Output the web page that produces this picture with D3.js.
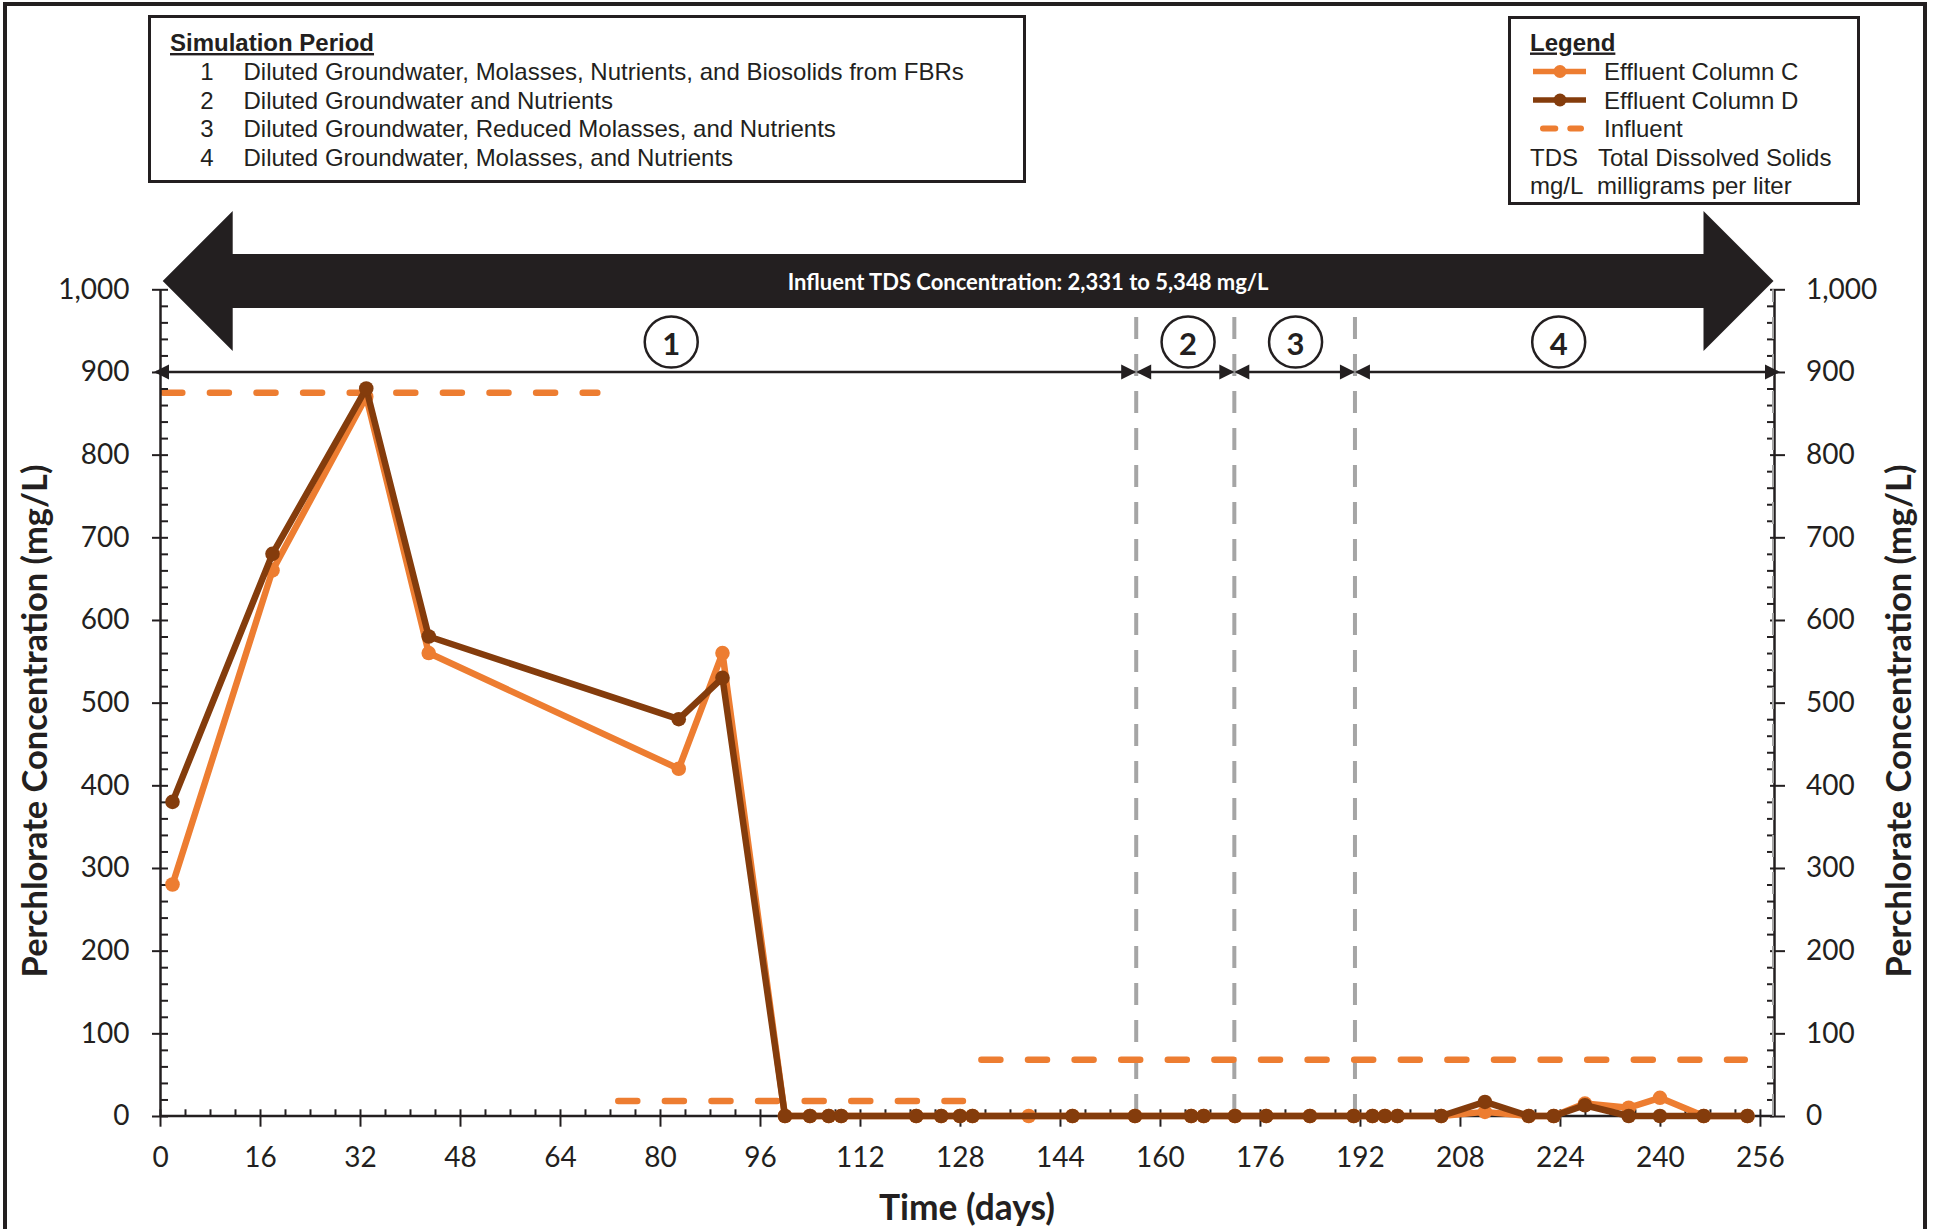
<!DOCTYPE html>
<html><head><meta charset="utf-8">
<script src="https://cdn.jsdelivr.net/npm/d3@7"></script>
<style>body{margin:0;background:#fff}svg{display:block}</style>
</head><body>
<svg id="chart" width="1935" height="1229"></svg>
<script>
// ---------------- DATA ----------------
const daysC   = [2, 18, 33, 43, 83, 90, 100, 104, 107, 109, 121, 125, 128, 130, 139, 146, 156, 165, 167, 172, 177, 184, 191, 194, 196, 198, 205, 212, 219, 223, 228, 235, 240, 247, 254];
const valuesC = [280, 660, 870, 560, 420, 560, 0, 0, 0, 0, 0, 0, 0, 0, 0, 0, 0, 0, 0, 0, 0, 0, 0, 0, 0, 0, 0, 5, 0, 0, 15, 10, 22, 0, 0];
const daysD   = [2, 18, 33, 43, 83, 90, 100, 104, 107, 109, 121, 125, 128, 130, 146, 156, 165, 167, 172, 177, 184, 191, 194, 196, 198, 205, 212, 219, 223, 228, 235, 240, 247, 254];
const valuesD = [380, 680, 880, 580, 480, 530, 0, 0, 0, 0, 0, 0, 0, 0, 0, 0, 0, 0, 0, 0, 0, 0, 0, 0, 0, 0, 17, 0, 0, 13, 0, 0, 0, 0];
const influentStart  = [0, 72.8, 130.9];
const influentEnd    = [70.5, 129, 254.1];
const influentValues = [875, 18, 68];
const periodBounds    = [0, 156.2, 171.9, 191.2, 258.25];
const periodLabels    = ["1", "2", "3", "4"];
const periodLabelDays = [81.8, 164.5, 181.7, 223.8];
const xTicks = [0, 16, 32, 48, 64, 80, 96, 112, 128, 144, 160, 176, 192, 208, 224, 240, 256];
const yTicks = [0, 100, 200, 300, 400, 500, 600, 700, 800, 900, 1000];
const simNumbers = ["1", "2", "3", "4"];
const simDescriptions = [
  "Diluted Groundwater, Molasses, Nutrients, and Biosolids from FBRs",
  "Diluted Groundwater and Nutrients",
  "Diluted Groundwater, Reduced Molasses, and Nutrients",
  "Diluted Groundwater, Molasses, and Nutrients"
];
const legendSeries = ["Effluent Column C", "Effluent Column D", "Influent"];
const legendAbbrev = ["TDS", "mg/L"];
const legendMeaning = ["Total Dissolved Solids", "milligrams per liter"];
const tdsText = "Influent TDS Concentration: 2,331 to 5,348 mg/L";
const tdsTextDay = 138.9;
const yTitle = "Perchlorate Concentration (mg/L)";
const xTitle = "Time (days)";

// ---------------- STYLE ----------------
const INK = "#231f20", ORANGE = "#ED7D31", BROWN = "#843C0C", GRAY = "#A5A5A5";
const CAL = "Lato, 'Open Sans', sans-serif";
const ARIAL = "'Liberation Sans', Arial, sans-serif";
const BOXFS = 24;

const svg = d3.select("#chart");
const x = d3.scaleLinear().domain([0, 258.25]).range([160, 1774]);
const y = d3.scaleLinear().domain([0, 1000]).range([1116, 289.3]);

function fitWidth(sel, target) {
  const w = sel.node().getComputedTextLength();
  const fs = parseFloat(sel.attr("font-size"));
  sel.attr("font-size", fs * target / w);
}

// outer frame
svg.append("rect").attr("x", 5).attr("y", 4).attr("width", 1920).attr("height", 1300)
  .attr("fill", "none").attr("stroke", INK).attr("stroke-width", 4);

// ---------- period vertical lines ----------
const gPer = svg.append("g");
periodBounds.slice(1, 4).forEach(b => {
  gPer.append("line").attr("x1", x(b)).attr("x2", x(b)).attr("y1", y(0)).attr("y2", y(1000))
    .attr("stroke", GRAY).attr("stroke-width", 4).attr("stroke-dasharray", "22,15");
});

// ---------- influent ----------
const gInf = svg.append("g");
influentValues.forEach((v, i) => {
  gInf.append("line").attr("x1", x(influentStart[i]) + 3.3).attr("x2", x(influentEnd[i]) - 3.3)
    .attr("y1", y(v)).attr("y2", y(v))
    .attr("stroke", ORANGE).attr("stroke-width", 6.5).attr("stroke-linecap", "round")
    .attr("stroke-dasharray", "19,27.6");
});

// ---------- axes ----------
const axisStyle = g => {
  g.selectAll("path.domain").attr("stroke", INK).attr("stroke-width", 2.5);
  g.selectAll(".tick line").attr("stroke", INK).attr("stroke-width", 2);
  g.selectAll(".tick text").attr("fill", INK).attr("font-family", CAL).attr("font-size", 28);
};
const minorY = d3.range(0, 1001, 20).filter(v => v % 100 !== 0);
const minorX = d3.range(0, 257, 4).filter(v => v % 16 !== 0);

// x axis
const gx = svg.append("g").attr("transform", `translate(0,${y(0)})`)
  .call(d3.axisBottom(x).tickValues(xTicks).tickSizeInner(10.7).tickSizeOuter(0).tickPadding(20.6));
gx.selectAll(".tick line").attr("y1", -6.7);
gx.call(axisStyle);
gx.select("path.domain").remove();
svg.append("line").attr("x1", x(0)).attr("x2", x(258.25)).attr("y1", y(0)).attr("y2", y(0))
  .attr("stroke", INK).attr("stroke-width", 2.5);
svg.append("g").attr("transform", `translate(0,${y(0)})`)
  .call(d3.axisBottom(x).tickValues(minorX).tickSizeInner(-6.7).tickSizeOuter(0).tickFormat(""))
  .call(g => { g.select("path.domain").remove(); g.selectAll(".tick line").attr("stroke", INK).attr("stroke-width", 2); });

// left axis
const gyl = svg.append("g").attr("transform", `translate(${x(0)},0)`)
  .call(d3.axisLeft(y).tickValues(yTicks).tickFormat(d3.format(",")).tickSizeInner(8).tickSizeOuter(0).tickPadding(22.5));
gyl.selectAll(".tick line").attr("x1", 8);
gyl.call(axisStyle);
svg.append("g").attr("transform", `translate(${x(0)},0)`)
  .call(d3.axisLeft(y).tickValues(minorY).tickSizeInner(-8).tickSizeOuter(0).tickFormat(""))
  .call(g => { g.select("path.domain").remove(); g.selectAll(".tick line").attr("stroke", INK).attr("stroke-width", 2); });

// right axis
const gyr = svg.append("g").attr("transform", `translate(${x(258.25)},0)`)
  .call(d3.axisRight(y).tickValues(yTicks).tickFormat(d3.format(",")).tickSizeInner(11).tickSizeOuter(0).tickPadding(21));
gyr.selectAll(".tick line").attr("x1", -4);
gyr.call(axisStyle);
svg.append("g").attr("transform", `translate(${x(258.25)},0)`)
  .call(d3.axisRight(y).tickValues(minorY).tickSizeInner(-7).tickSizeOuter(0).tickFormat(""))
  .call(g => { g.select("path.domain").remove(); g.selectAll(".tick line").attr("stroke", INK).attr("stroke-width", 2); });
svg.append("line").attr("x1", x(258.25) - 1).attr("x2", x(258.25) - 1).attr("y1", y(0)).attr("y2", y(1000))
  .attr("stroke", GRAY).attr("stroke-width", 2).attr("stroke-dasharray", "22,15");

// ---------- data series ----------
const line = d3.line().x(d => x(d[0])).y(d => y(d[1]));
function drawSeries(days, vals, color) {
  const pts = days.map((d, i) => [d, vals[i]]);
  svg.append("path").datum(pts).attr("d", line).attr("fill", "none")
    .attr("stroke", color).attr("stroke-width", 6.5).attr("stroke-linejoin", "round");
  svg.append("g").selectAll("circle").data(pts).join("circle")
    .attr("cx", d => x(d[0])).attr("cy", d => y(d[1])).attr("r", 7.3).attr("fill", color);
}
drawSeries(daysC, valuesC, ORANGE);
drawSeries(daysD, valuesD, BROWN);

// ---------- period span arrows ----------
const spanY = y(900);
const gSpan = svg.append("g");
function head(tx, dir) { // dir -1 points left, +1 points right
  gSpan.append("path")
    .attr("d", `M${tx},${spanY} L${tx - dir * 15},${spanY - 7.5} L${tx - dir * 15},${spanY + 7.5} Z`)
    .attr("fill", INK);
}
periodLabels.forEach((lab, i) => {
  let a = x(periodBounds[i]), b = x(periodBounds[i + 1]);
  if (i === 0) a -= 6;
  if (i === 3) b += 6;
  gSpan.append("line").attr("x1", a + 2).attr("x2", b - 2).attr("y1", spanY).attr("y2", spanY)
    .attr("stroke", INK).attr("stroke-width", 2.5);
  head(a, -1); head(b, 1);
  const cx = x(periodLabelDays[i]);
  gSpan.append("ellipse").attr("cx", cx).attr("cy", 342).attr("rx", 26.5).attr("ry", 25.5)
    .attr("fill", "#fff").attr("stroke", INK).attr("stroke-width", 2.5);
  gSpan.append("text").attr("x", cx).attr("y", 355).attr("text-anchor", "middle")
    .attr("font-family", CAL).attr("font-weight", 700).attr("font-size", 31).attr("fill", INK).text(lab);
});

// ---------- big black TDS arrow ----------
const xL = x(0) + 2.7, xR = x(258.25) - 0.5, cy = 281;
svg.append("path").attr("fill", INK).attr("d",
  `M${xL},${cy} L${xL + 70},${cy - 70} L${xL + 70},${cy - 27} L${xR - 70},${cy - 27} L${xR - 70},${cy - 70} L${xR},${cy} ` +
  `L${xR - 70},${cy + 70} L${xR - 70},${cy + 27} L${xL + 70},${cy + 27} L${xL + 70},${cy + 70} Z`);
const tds = svg.append("text").attr("x", x(tdsTextDay)).attr("y", 290).attr("text-anchor", "middle")
  .attr("font-family", CAL).attr("font-weight", 700).attr("font-size", 22).attr("fill", "#fff").text(tdsText);
fitWidth(tds, 481);

// ---------- axis titles ----------
const tl = svg.append("text").attr("transform", "translate(47,721) rotate(-90)").attr("text-anchor", "middle")
  .attr("font-family", CAL).attr("font-weight", 700).attr("font-size", 31).attr("fill", INK).text(yTitle);
fitWidth(tl, 513);
const tr = svg.append("text").attr("transform", "translate(1911,721) rotate(-90)").attr("text-anchor", "middle")
  .attr("font-family", CAL).attr("font-weight", 700).attr("font-size", 31).attr("fill", INK).text(yTitle);
fitWidth(tr, 513);
const tb = svg.append("text").attr("x", 967).attr("y", 1220.4).attr("text-anchor", "middle")
  .attr("font-family", CAL).attr("font-weight", 700).attr("font-size", 31).attr("fill", INK).text(xTitle);
fitWidth(tb, 176);

// ---------- simulation period box ----------
const gs = svg.append("g");
gs.append("rect").attr("x", 149.5).attr("y", 16.5).attr("width", 875).attr("height", 165)
  .attr("fill", "#fff").attr("stroke", INK).attr("stroke-width", 3);
gs.append("text").attr("x", 170).attr("y", 51).attr("font-family", ARIAL).attr("font-weight", 700)
  .attr("font-size", BOXFS).attr("fill", INK).style("text-decoration", "underline").text("Simulation Period");
const rowY = [80, 108.5, 137, 165.5, 194];
simNumbers.forEach((n, i) => {
  gs.append("text").attr("x", 207).attr("y", rowY[i]).attr("text-anchor", "middle")
    .attr("font-family", ARIAL).attr("font-size", BOXFS).attr("fill", INK).text(n);
  gs.append("text").attr("x", 243.5).attr("y", rowY[i])
    .attr("font-family", ARIAL).attr("font-size", BOXFS).attr("fill", INK).text(simDescriptions[i]);
});

// ---------- legend box ----------
const gl = svg.append("g");
gl.append("rect").attr("x", 1509.5).attr("y", 17.5).attr("width", 349).attr("height", 186)
  .attr("fill", "#fff").attr("stroke", INK).attr("stroke-width", 3);
gl.append("text").attr("x", 1530).attr("y", 50.5).attr("font-family", ARIAL).attr("font-weight", 700)
  .attr("font-size", BOXFS).attr("fill", INK).style("text-decoration", "underline").text("Legend");
const legColors = [ORANGE, BROWN, ORANGE];
legendSeries.forEach((s, i) => {
  const ly = rowY[i] - 8.5;
  if (i < 2) {
    gl.append("line").attr("x1", 1533).attr("x2", 1586).attr("y1", ly).attr("y2", ly)
      .attr("stroke", legColors[i]).attr("stroke-width", 5.5);
    gl.append("circle").attr("cx", 1560).attr("cy", ly).attr("r", 6.5).attr("fill", legColors[i]);
  } else {
    gl.append("line").attr("x1", 1543).attr("x2", 1581).attr("y1", ly).attr("y2", ly)
      .attr("stroke", legColors[i]).attr("stroke-width", 6).attr("stroke-linecap", "round")
      .attr("stroke-dasharray", "12.3,15");
  }
  gl.append("text").attr("x", 1604).attr("y", rowY[i]).attr("font-family", ARIAL)
    .attr("font-size", BOXFS).attr("fill", INK).text(s);
});
const abbrX = [1598, 1597];
legendAbbrev.forEach((a, i) => {
  gl.append("text").attr("x", 1530).attr("y", rowY[3 + i]).attr("font-family", ARIAL)
    .attr("font-size", BOXFS).attr("fill", INK).text(a);
  gl.append("text").attr("x", abbrX[i]).attr("y", rowY[3 + i]).attr("font-family", ARIAL)
    .attr("font-size", BOXFS).attr("fill", INK).text(legendMeaning[i]);
});
</script>
</body></html>
